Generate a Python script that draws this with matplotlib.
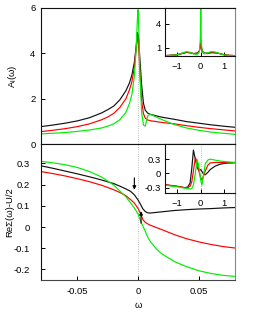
import matplotlib
matplotlib.use("Agg")
import matplotlib.pyplot as plt

plt.rcParams['font.family'] = ['Liberation Sans', 'DejaVu Sans']
plt.rcParams['mathtext.fontset'] = 'custom'
plt.rcParams['mathtext.rm'] = 'Liberation Sans'

# ---------------- data ----------------
# main top panel: spectral function
omega_a = [-0.08, -0.07, -0.06, -0.05, -0.04, -0.03, -0.025, -0.02, -0.015, -0.01, -0.007, -0.005,
           -0.003, -0.0015, -0.0005, 0.0, 0.0007, 0.0015, 0.003, 0.0045, 0.006, 0.008, 0.01, 0.015,
           0.02, 0.03, 0.04, 0.05, 0.06, 0.07, 0.08]
A_black = [0.78, 0.85, 0.93, 1.03, 1.17, 1.38, 1.52, 1.68, 1.95, 2.35, 2.7, 3.05,
           3.6, 4.3, 4.9, 4.8, 4.5, 3.8, 2.6, 1.8, 1.5, 1.37, 1.32, 1.25,
           1.19, 1.1, 1.0, 0.93, 0.86, 0.8, 0.75]
A_red = [0.56, 0.62, 0.69, 0.78, 0.9, 1.08, 1.2, 1.36, 1.62, 2.0, 2.4, 2.75,
         3.4, 4.2, 4.72, 4.6, 4.2, 3.2, 1.9, 1.35, 1.15, 1.07, 1.04, 1.0,
         0.96, 0.9, 0.82, 0.75, 0.69, 0.64, 0.59]
A_green = [0.46, 0.49, 0.52, 0.57, 0.63, 0.72, 0.8, 0.9, 1.08, 1.4, 1.8, 2.2,
           3.0, 4.2, 5.5, 5.9, 5.0, 3.2, 1.4, 0.85, 0.8, 1.25, 1.32, 1.2,
           1.08, 0.87, 0.72, 0.62, 0.54, 0.49, 0.44]

# top inset: wide-range spectral function
omega_ai = [-1.5, -1.2, -1.0, -0.8, -0.6, -0.45, -0.3, -0.15, -0.06, -0.02, 0.0, 0.02, 0.06,
            0.15, 0.3, 0.45, 0.6, 0.8, 1.0, 1.2, 1.45]
Ai_black = [0.05, 0.1, 0.15, 0.3, 0.45, 0.4, 0.3, 0.35, 0.6, 1.2, 1.6, 1.2, 0.6,
            0.35, 0.35, 0.45, 0.4, 0.3, 0.15, 0.08, 0.05]
Ai_red = [0.05, 0.1, 0.15, 0.3, 0.45, 0.4, 0.3, 0.35, 0.6, 1.1, 1.5, 1.1, 0.6,
          0.3, 0.3, 0.4, 0.4, 0.3, 0.15, 0.08, 0.05]
Ai_green = [0.03, 0.08, 0.15, 0.35, 0.55, 0.45, 0.25, 0.2, 0.5, 2.0, 5.9, 2.0, 0.5,
            0.3, 0.4, 0.55, 0.5, 0.3, 0.12, 0.05, 0.03]

# main bottom panel: real part of self-energy
omega_s = [-0.08, -0.07, -0.06, -0.05, -0.04, -0.03, -0.02, -0.015, -0.01, -0.006, -0.003, 0.0,
           0.002, 0.004, 0.006, 0.008, 0.01, 0.015, 0.02, 0.03, 0.04, 0.05, 0.06, 0.07, 0.08]
S_black = [0.289, 0.277, 0.264, 0.251, 0.237, 0.222, 0.205, 0.193, 0.18, 0.168, 0.152, 0.128,
           0.108, 0.086, 0.073, 0.067, 0.066, 0.069, 0.072, 0.078, 0.082, 0.085, 0.087, 0.09, 0.092]
S_red = [0.262, 0.252, 0.241, 0.228, 0.214, 0.197, 0.176, 0.163, 0.148, 0.129, 0.113, 0.088,
         0.065, 0.035, 0.022, 0.015, 0.009, -0.002, -0.013, -0.036, -0.055, -0.07, -0.082, -0.092, -0.099]
S_green = [0.31, 0.303, 0.294, 0.281, 0.262, 0.236, 0.198, 0.17, 0.143, 0.113, 0.09, 0.062,
           0.03, 0.005, -0.02, -0.047, -0.067, -0.103, -0.128, -0.163, -0.187, -0.206, -0.219, -0.228, -0.233]

# bottom inset: wide-range self-energy
omega_si = [-1.5, -1.2, -0.9, -0.7, -0.55, -0.45, -0.38, -0.31, -0.23, -0.15, -0.08, 0.0, 0.05,
            0.1, 0.19, 0.3, 0.4, 0.6, 0.8, 1.0, 1.2, 1.45]
Si_black = [-0.24, -0.26, -0.28, -0.3, -0.29, -0.2, 0.1, 0.49, 0.3, 0.12, 0.06, 0.08, 0.04,
            0.0, -0.03, 0.02, 0.08, 0.15, 0.19, 0.21, 0.22, 0.23]
Si_red = [-0.24, -0.26, -0.28, -0.3, -0.3, -0.27, -0.18, 0.05, 0.33, 0.25, 0.05, -0.1, -0.14,
          -0.08, 0.05, 0.17, 0.22, 0.23, 0.23, 0.23, 0.22, 0.22]
Si_green = [-0.25, -0.27, -0.29, -0.31, -0.32, -0.33, -0.32, -0.25, 0.0, 0.29, 0.15, -0.15, -0.25,
            -0.1, 0.2, 0.28, 0.3, 0.28, 0.26, 0.25, 0.24, 0.23]

# arrows (x, y_start, y_end)
arrow_down = (-0.003, 0.232, 0.176)
arrow_up = (0.0025, 0.018, 0.075)

colors = ['#111111', '#ff0000', '#00ee00']
FS = 6.8

fig = plt.figure(figsize=(2.57, 3.13), dpi=100)
W, H = 257.0, 313.0

def fr(x0, y0, x1, y1):
    return [x0 / W, 1 - y1 / H, (x1 - x0) / W, (y1 - y0) / H]

ax1 = fig.add_axes(fr(41, 7.5, 235, 144.4))
ax2 = fig.add_axes(fr(41, 144.4, 235, 280))
in1 = fig.add_axes(fr(165.3, 7.5, 235, 56))
in2 = fig.add_axes(fr(165.3, 144.4, 235, 193.3))

def style(ax, ypad, xpad=4):
    ax.tick_params(direction='in', length=3, width=0.7, labelsize=FS, pad=ypad, axis='y')
    ax.tick_params(direction='in', length=3, width=0.7, labelsize=FS, pad=xpad, axis='x')
    for s in ax.spines.values():
        s.set_linewidth(0.8)
        s.set_color('#111111')
    ax.spines['right'].set_color('#888888')

lw = 0.85
# top main
for y, c in zip([A_black, A_red, A_green], colors):
    ax1.plot(omega_a, y, color=c, lw=lw)
ax1.axvline(0, color='#aaaaaa', ls=':', lw=0.6, zorder=0)
ax1.set_xlim(-0.08, 0.08)
ax1.set_ylim(0, 6)
ax1.set_yticks([0, 2, 4, 6])
ax1.set_xticks([])
style(ax1, 4)
ax1.set_ylabel(r'A$_\mathregular{l}$(ω)', fontsize=FS)
ax1.yaxis.set_label_coords(-0.115, 0.5)

# bottom main
for y, c in zip([S_black, S_red, S_green], colors):
    ax2.plot(omega_s, y, color=c, lw=lw)
ax2.axvline(0, color='#aaaaaa', ls=':', lw=0.6, zorder=0)
ax2.set_xlim(-0.08, 0.08)
ax2.set_ylim(-0.25, 0.39)
ax2.set_yticks([-0.2, -0.1, 0, 0.1, 0.2, 0.3])
ax2.set_yticklabels(['-0.2', '-0.1', '0', '0.1', '0.2', '0.3'])
ax2.set_xticks([-0.05, 0, 0.05])
ax2.set_xticklabels(['-0.05', '0', '0.05'])
style(ax2, 8, 5)
ax2.spines['bottom'].set_color('#444444')
ax2.set_ylabel('ReΣ(ω)-U/2', fontsize=FS)
ax2.yaxis.set_label_coords(-0.14, 0.5)
ax2.set_xlabel('ω', fontsize=FS, labelpad=4)
for (x, y0, y1) in [arrow_down, arrow_up]:
    ax2.annotate('', xy=(x, y1), xytext=(x, y0),
                 arrowprops=dict(arrowstyle='-|>', lw=0.8, color='k', mutation_scale=5,
                                 shrinkA=0, shrinkB=0))

# top inset
for y, c in zip([Ai_black, Ai_red, Ai_green], colors):
    in1.plot(omega_ai, y, color=c, lw=lw)
in1.axvline(0, color='#aaaaaa', ls=':', lw=0.6, zorder=0)
in1.set_xlim(-1.5, 1.45)
in1.set_ylim(0, 6)
in1.set_yticks([1, 4])
in1.set_xticks([-1, 0, 1])
style(in1, 3, 4)

# bottom inset
for y, c in zip([Si_black, Si_red, Si_green], colors):
    in2.plot(omega_si, y, color=c, lw=lw)
in2.axvline(0, color='#aaaaaa', ls=':', lw=0.6, zorder=0)
in2.set_xlim(-1.5, 1.45)
in2.set_ylim(-0.42, 0.61)
in2.set_yticks([-0.3, 0, 0.3])
in2.set_yticklabels(['-0.3', '0', '0.3'])
in2.set_xticks([-1, 0, 1])
style(in2, 3, 4)

fig.savefig('out.png', dpi=100)
